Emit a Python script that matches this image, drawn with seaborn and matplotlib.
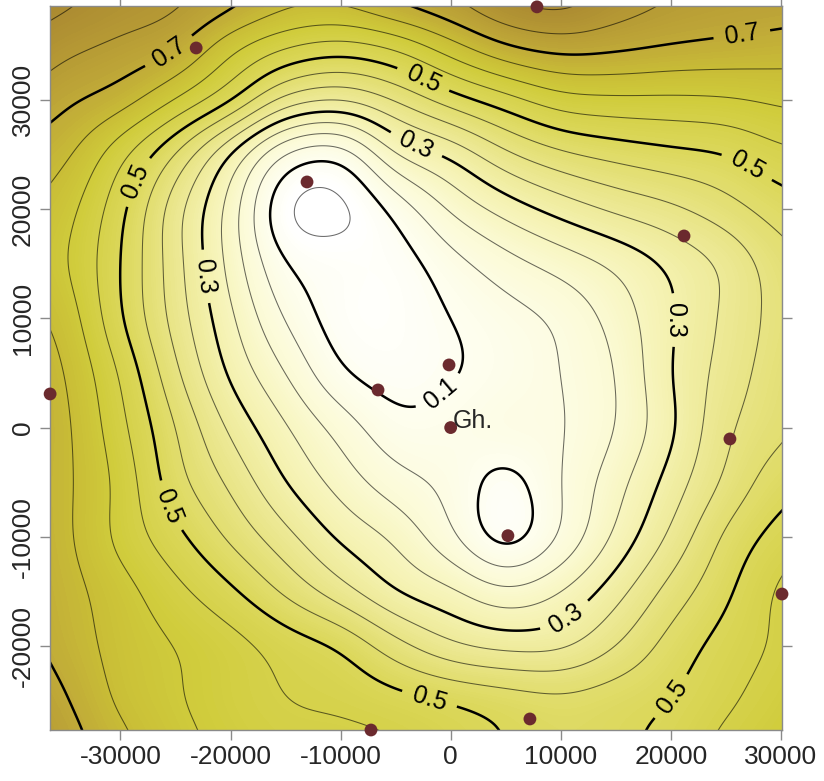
import numpy as np
import matplotlib
matplotlib.use("Agg")
import matplotlib.pyplot as plt
import seaborn as sns
from matplotlib.colors import LinearSegmentedColormap

# ---------------- data ----------------
grid_x = [-40000, -35000, -30000, -25000, -20000, -15000, -10000, -5000,
          0, 5000, 10000, 15000, 20000, 25000, 30000, 35000]
grid_y = [40000, 35000, 30000, 25000, 20000, 15000, 10000, 5000,
          0, -5000, -10000, -15000, -20000, -25000, -30000]

z_y40000 = [0.84, 0.82, 0.79, 0.77, 0.74, 0.69, 0.69, 0.74, 0.77, 0.82, 0.84, 0.79, 0.76, 0.745, 0.74, 0.73]
z_y35000 = [0.80, 0.765, 0.74, 0.71, 0.62, 0.56, 0.535, 0.565, 0.635, 0.70, 0.725, 0.715, 0.70, 0.69, 0.68, 0.67]
z_y30000 = [0.75, 0.71, 0.675, 0.60, 0.51, 0.385, 0.353, 0.406, 0.476, 0.53, 0.58, 0.59, 0.59, 0.595, 0.61, 0.62]
z_y25000 = [0.69, 0.66, 0.565, 0.446, 0.295, 0.14, 0.115, 0.25, 0.31, 0.39, 0.44, 0.467, 0.486, 0.50, 0.537, 0.55]
z_y20000 = [0.66, 0.62, 0.515, 0.37, 0.23, 0.05, 0.035, 0.115, 0.207, 0.27, 0.32, 0.36, 0.39, 0.43, 0.475, 0.50]
z_y15000 = [0.64, 0.605, 0.50, 0.37, 0.234, 0.10, 0.075, 0.075, 0.13, 0.18, 0.22, 0.26, 0.31, 0.36, 0.43, 0.46]
z_y10000 = [0.67, 0.63, 0.505, 0.38, 0.26, 0.145, 0.075, 0.07, 0.10, 0.13, 0.16, 0.22, 0.295, 0.36, 0.42, 0.45]
z_y5000 = [0.70, 0.65, 0.545, 0.41, 0.29, 0.20, 0.105, 0.08, 0.095, 0.12, 0.15, 0.20, 0.30, 0.37, 0.43, 0.46]
z_y0 = [0.70, 0.66, 0.565, 0.45, 0.34, 0.255, 0.18, 0.115, 0.12, 0.14, 0.145, 0.20, 0.29, 0.39, 0.44, 0.47]
z_ym5000 = [0.69, 0.66, 0.585, 0.47, 0.39, 0.30, 0.23, 0.17, 0.135, 0.08, 0.15, 0.23, 0.32, 0.41, 0.48, 0.50]
z_ym10000 = [0.70, 0.66, 0.585, 0.515, 0.44, 0.366, 0.29, 0.24, 0.16, 0.075, 0.155, 0.26, 0.36, 0.46, 0.52, 0.55]
z_ym15000 = [0.71, 0.67, 0.62, 0.565, 0.51, 0.44, 0.37, 0.30, 0.26, 0.21, 0.25, 0.33, 0.42, 0.49, 0.56, 0.60]
z_ym20000 = [0.72, 0.68, 0.63, 0.60, 0.57, 0.53, 0.495, 0.42, 0.36, 0.335, 0.34, 0.40, 0.47, 0.52, 0.56, 0.60]
z_ym25000 = [0.75, 0.705, 0.64, 0.605, 0.575, 0.55, 0.54, 0.52, 0.50, 0.48, 0.465, 0.48, 0.50, 0.54, 0.58, 0.61]
z_ym30000 = [0.78, 0.73, 0.67, 0.62, 0.59, 0.57, 0.57, 0.56, 0.53, 0.50, 0.48, 0.49, 0.52, 0.57, 0.60, 0.62]

station_x = [-13050, -23120, 7840, 21200, -36390, -6600, -150, 0,
             25370, 5200, 30100, 7200, -7240]
station_y = [22470, 34730, 38490, 17530, 3075, 3440, 5730, 0,
             -1040, -9890, -15230, -26660, -27670]

x_ticks = [-30000, -20000, -10000, 0, 10000, 20000, 30000]
y_ticks = [-20000, -10000, 0, 10000, 20000, 30000]
thin_levels = [0.05, 0.15, 0.2, 0.25, 0.35, 0.4, 0.45, 0.55, 0.6, 0.65, 0.75, 0.8, 0.85]
thick_levels = [0.1, 0.3, 0.5, 0.7]
label_pos = [(-25220, 33900), (26460, 35920),
             (-28220, 22380), (-2520, 31800), (26910, 23840), (-25770, -7260),
             (-1880, -24670), (20550, -24930),
             (-22770, 13780), (-3060, 26040), (20190, 9840), (10200, -17000),
             (-1240, 3440)]

# ---------------- smooth resampling of the grid for drawing ----------------
Z = np.array([z_y40000, z_y35000, z_y30000, z_y25000, z_y20000, z_y15000,
              z_y10000, z_y5000, z_y0, z_ym5000, z_ym10000, z_ym15000,
              z_ym20000, z_ym25000, z_ym30000])[::-1]
gx = np.array(grid_x, float)
gy = np.array(grid_y, float)[::-1]


def cr_matrix(nodes, fine):
    n = len(nodes)
    step = nodes[1] - nodes[0]
    M = np.zeros((len(fine), n))
    for k, u in enumerate((fine - nodes[0]) / step):
        i = int(np.floor(u))
        t = u - i
        w = [(-t**3 + 2*t**2 - t) / 2, (3*t**3 - 5*t**2 + 2) / 2,
             (-3*t**3 + 4*t**2 + t) / 2, (t**3 - t**2) / 2]
        for j, wj in zip(range(i - 1, i + 3), w):
            M[k, min(max(j, 0), n - 1)] += wj
    return M


def blur_matrix(coords, sigma):
    d = coords[:, None] - coords[None, :]
    W = np.exp(-0.5 * (d / sigma) ** 2)
    return W / W.sum(axis=1, keepdims=True)


xlim = (-36400, 30100)
ylim = (-27670, 38570)
fx = np.linspace(-40000, 35000, 560)
fy = np.linspace(-30000, 40000, 520)
Zf = cr_matrix(gy, fy) @ Z @ cr_matrix(gx, fx).T
Zf = blur_matrix(fy, 1300) @ Zf @ blur_matrix(fx, 1300).T
XX, YY = np.meshgrid(fx, fy)

# ---------------- plotting ----------------
sns.set_style("ticks")
plt.rcParams["font.family"] = ["Liberation Sans", "DejaVu Sans"]
plt.rcParams["axes.unicode_minus"] = False

cmap = LinearSegmentedColormap.from_list("olive", [
    (0.00, "#FFFFFF"), (0.06, "#FFFFFF"), (0.11, "#FEFEF0"),
    (0.22, "#FBFAD4"), (0.33, "#F4F1AE"), (0.44, "#E8E486"),
    (0.55, "#DCD85C"), (0.66, "#D0CC3C"), (0.72, "#C9BE36"),
    (0.78, "#C0AA38"), (0.88, "#AE8E32"), (1.00, "#9C7A2C")])

fig = plt.figure(figsize=(8.24, 7.81), dpi=100)
ax = fig.add_axes([50/824, 1 - 730/781, 732/824, 724/781])

ax.contourf(XX, YY, Zf, levels=np.arange(-0.05, 1.0, 0.005), cmap=cmap,
            vmin=0.0, vmax=0.9, extend="both")
ax.contour(XX, YY, Zf, levels=thin_levels, colors=[(0, 0, 0, 0.58)],
           linewidths=0.75)
cs = ax.contour(XX, YY, Zf, levels=thick_levels, colors="black",
                linewidths=1.8)
ax.clabel(cs, fmt="%.1f", fontsize=18, inline=True, inline_spacing=8,
          manual=label_pos)

sns.scatterplot(x=station_x, y=station_y, ax=ax, color="#6B2A2E", s=85,
                edgecolor="none", zorder=6, clip_on=False, legend=False)
ax.text(150, 0, "Gh.", fontsize=18, ha="left", va="baseline", zorder=7)

ax.set_xlim(*xlim)
ax.set_ylim(*ylim)
ax.set_xticks(x_ticks)
ax.set_yticks(y_ticks)
ax.set_xticklabels([str(v) for v in x_ticks], fontsize=19)
ax.set_yticklabels([str(v) for v in y_ticks], fontsize=19, rotation=90,
                   va="center")
ax.tick_params(axis="both", which="both", direction="out", length=7,
               width=1, color="#8a8a8a", top=True, right=True, pad=4)
for s in ax.spines.values():
    s.set_color("#8a8a8a")
    s.set_linewidth(1)
ax.set_xlabel("")
ax.set_ylabel("")

fig.savefig("out.png", dpi=100)
